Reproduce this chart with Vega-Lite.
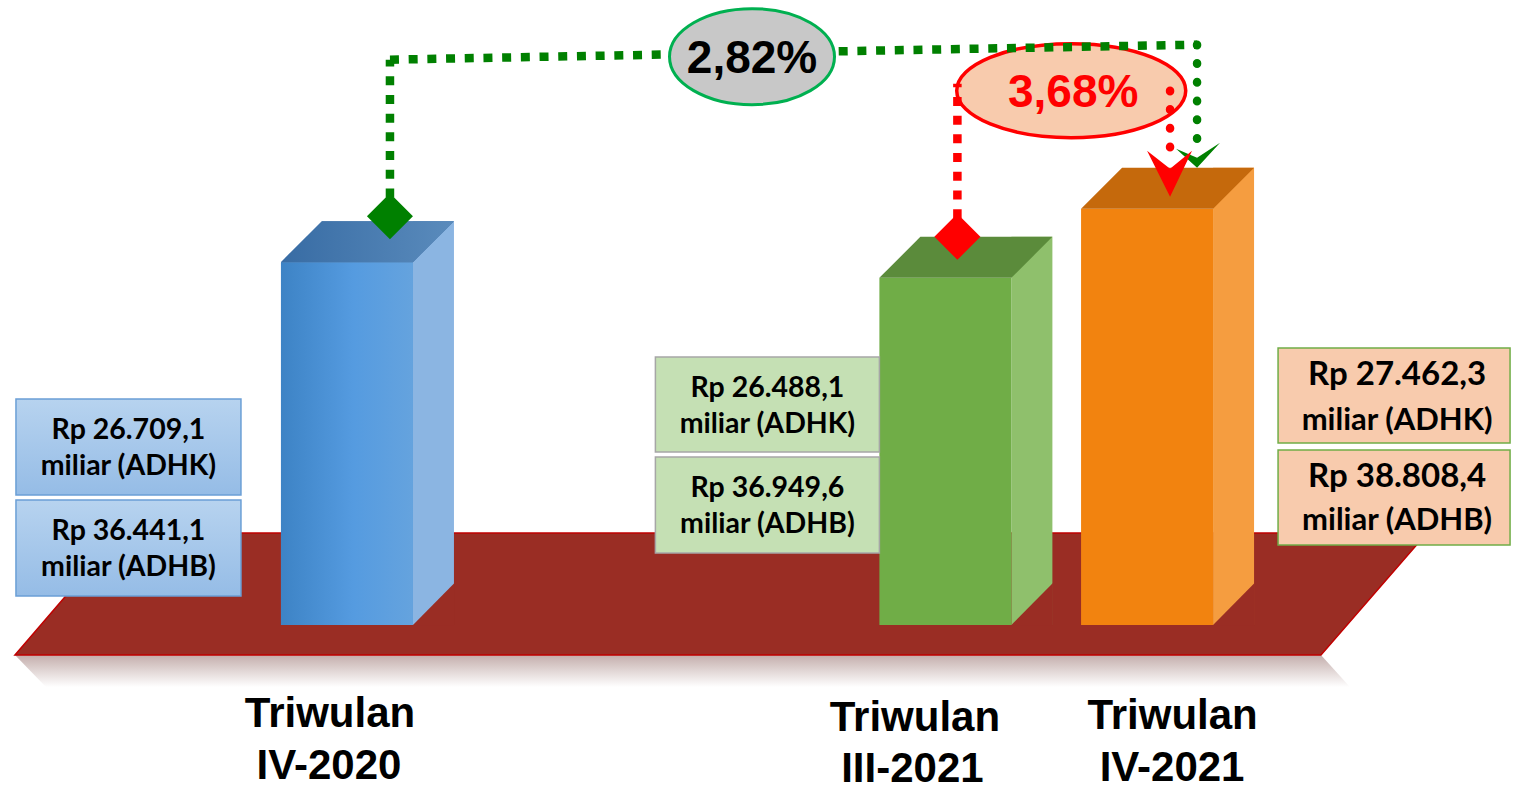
{
 "$schema": "https://vega.github.io/schema/vega-lite/v6.json",
 "width": 1528,
 "height": 625,
 "autosize": {"type": "none"},
 "padding": {"left": 0, "top": 0, "right": 0, "bottom": 166},
 "background": "#ffffff",
 "config": {
  "view": {"stroke": null},
  "locale": {"number": {"decimal": ",", "thousands": ".", "grouping": [3], "currency": ["Rp ", ""]}}
 },
 "datasets": {
  "quarters": [
   {"quarter": "2020-11-15", "period": "IV-2020", "adhk": 26709.1, "adhb": 36441.1},
   {"quarter": "2021-08-15", "period": "III-2021", "adhk": 26488.1, "adhb": 36949.6},
   {"quarter": "2021-11-15", "period": "IV-2021", "adhk": 27462.3, "adhb": 38808.4}
  ]
 },
 "data": {"name": "quarters"},
 "resolve": {"scale": {"color": "independent"}},
 "layer": [
  {
   "data": {"values": [{}]},
   "mark": {"type": "point", "shape": "M-332,30 L974,30 L1003,62 L-301,62 Z", "size": 4, "filled": true, "opacity": 1, "strokeWidth": 0,
    "fill": {"gradient": "linear", "x1": 0, "y1": 0, "x2": 0, "y2": 1, "stops": [{"offset": 0, "color": "#c4aeac"}, {"offset": 1, "color": "#ffffff"}]}},
   "encoding": {
    "x": {"datum": {"year": 2020, "month": 11, "date": 15}, "type": "temporal", "axis": null},
    "y": {"datum": 21600, "type": "quantitative", "axis": null}
   }
  },
  {
   "data": {"values": [{}]},
   "mark": {"type": "point", "shape": "M-227,-92 L1080,-92 L974,30 L-332,30 Z", "size": 4, "filled": true, "opacity": 1, "fill": "#9a2d24", "stroke": "#c00000", "strokeWidth": 1.5},
   "encoding": {
    "x": {"datum": {"year": 2020, "month": 11, "date": 15}, "type": "temporal", "axis": null},
    "y": {"datum": 21600, "type": "quantitative", "axis": null}
   }
  },
  {
   "mark": {"type": "bar", "width": 41, "xOffset": 86.5, "yOffset": -41, "opacity": 1},
   "encoding": {
    "x": {"field": "quarter", "type": "temporal", "axis": null},
    "y": {"field": "adhk", "type": "quantitative", "axis": null},
    "y2": {"datum": 21600},
    "color": {"field": "period", "type": "nominal", "scale": {"domain": ["IV-2020", "III-2021", "IV-2021"], "range": ["#8bb5e2", "#8fc06c", "#f59d40"]}, "legend": null}
   }
  },
  {
   "mark": {"type": "point", "shape": "M65.5,0.5 L107.5,-42 L107.5,0.5 Z", "size": 4, "filled": true, "opacity": 1, "fill": "#9a2d24", "strokeWidth": 0},
   "encoding": {
    "x": {"field": "quarter", "type": "temporal", "axis": null},
    "y": {"datum": 21600, "type": "quantitative", "axis": null}
   }
  },
  {
   "mark": {"type": "bar", "width": 132, "opacity": 1},
   "encoding": {
    "x": {"field": "quarter", "type": "temporal", "title": null,
     "scale": {"domain": [{"year": 2020, "month": 6, "date": 12}, {"year": 2022, "month": 5, "date": 5, "hours": 12}], "nice": false},
     "axis": null},
    "y": {"field": "adhk", "type": "quantitative", "scale": {"domain": [21600, 30400], "zero": false, "nice": false}, "axis": null},
    "y2": {"datum": 21600},
    "color": {"field": "period", "type": "nominal", "scale": {"domain": ["IV-2020", "III-2021", "IV-2021"], "range": ["#4b91d4", "#70ad47", "#f2830f"]}, "legend": null}
   }
  },
  {
   "transform": [{"filter": "datum.period === 'IV-2020'"}],
   "mark": {"type": "bar", "width": 132, "opacity": 1,
    "color": {"gradient": "linear", "x1": 0, "y1": 0, "x2": 1, "y2": 0, "stops": [{"offset": 0, "color": "#3d83c5"}, {"offset": 0.55, "color": "#559be0"}, {"offset": 1, "color": "#65a3de"}]}},
   "encoding": {
    "x": {"field": "quarter", "type": "temporal", "axis": null},
    "y": {"field": "adhk", "type": "quantitative", "axis": null},
    "y2": {"datum": 21600}
   }
  },
  {
   "mark": {"type": "point", "shape": "M-66,0 L66,0 L107,-41 L-25,-41 Z", "size": 4, "filled": true, "opacity": 1, "strokeWidth": 0},
   "encoding": {
    "x": {"field": "quarter", "type": "temporal", "axis": null},
    "y": {"field": "adhk", "type": "quantitative", "axis": null},
    "color": {"field": "period", "type": "nominal", "scale": {"domain": ["IV-2020", "III-2021", "IV-2021"], "range": ["#4677ad", "#5b8b3b", "#c5690c"]}, "legend": null}
   }
  },
  {
   "transform": [{"filter": "datum.period === 'IV-2020'"}],
   "mark": {"type": "point", "shape": "M-66,0 L66,0 L107,-41 L-25,-41 Z", "size": 4, "filled": true, "opacity": 1, "strokeWidth": 0,
    "fill": {"gradient": "linear", "x1": 0, "y1": 0, "x2": 1, "y2": 0, "stops": [{"offset": 0, "color": "#386ca4"}, {"offset": 1, "color": "#5a8bbc"}]}},
   "encoding": {
    "x": {"field": "quarter", "type": "temporal", "axis": null},
    "y": {"field": "adhk", "type": "quantitative", "axis": null}
   }
  },
  {
   "transform": [{"filter": "datum.period === 'IV-2020'"}],
   "encoding": {
    "x": {"field": "quarter", "type": "temporal", "axis": null},
    "y": {"datum": 21600, "type": "quantitative", "axis": null}
   },
   "layer": [
    {"mark": {"type": "point", "shape": "M-112.5,-48 L112.5,-48 L112.5,48 L-112.5,48 Z", "size": 4, "filled": true, "opacity": 1, "stroke": "#6b9fd6", "strokeWidth": 1.5, "xOffset": -218.5, "yOffset": -178,
     "fill": {"gradient": "linear", "x1": 0, "y1": 0, "x2": 0, "y2": 1, "stops": [{"offset": 0, "color": "#b7d3ef"}, {"offset": 1, "color": "#95bce6"}]}}},
    {"mark": {"type": "point", "shape": "M-112.5,-48 L112.5,-48 L112.5,48 L-112.5,48 Z", "size": 4, "filled": true, "opacity": 1, "stroke": "#6b9fd6", "strokeWidth": 1.5, "xOffset": -218.5, "yOffset": -77,
     "fill": {"gradient": "linear", "x1": 0, "y1": 0, "x2": 0, "y2": 1, "stops": [{"offset": 0, "color": "#b7d3ef"}, {"offset": 1, "color": "#95bce6"}]}}},
    {"mark": {"type": "text", "font": "Lato", "fontWeight": "bold", "fontSize": 28.5, "color": "#000000", "align": "center", "baseline": "alphabetic", "xOffset": -218.5, "yOffset": -186},
     "encoding": {"text": {"field": "adhk", "type": "quantitative", "format": "$,.1f"}}},
    {"mark": {"type": "text", "font": "Lato", "fontWeight": "bold", "fontSize": 28.5, "color": "#000000", "align": "center", "baseline": "alphabetic", "xOffset": -218.5, "yOffset": -150.5},
     "encoding": {"text": {"value": "miliar (ADHK)"}}},
    {"mark": {"type": "text", "font": "Lato", "fontWeight": "bold", "fontSize": 28.5, "color": "#000000", "align": "center", "baseline": "alphabetic", "xOffset": -218.5, "yOffset": -85},
     "encoding": {"text": {"field": "adhb", "type": "quantitative", "format": "$,.1f"}}},
    {"mark": {"type": "text", "font": "Lato", "fontWeight": "bold", "fontSize": 28.5, "color": "#000000", "align": "center", "baseline": "alphabetic", "xOffset": -218.5, "yOffset": -49.5},
     "encoding": {"text": {"value": "miliar (ADHB)"}}},
    {"mark": {"type": "text", "font": "Liberation Sans", "fontWeight": "bold", "fontSize": 42, "color": "#000000", "align": "center", "baseline": "alphabetic", "xOffset": -17, "yOffset": 102},
     "encoding": {"text": {"value": "Triwulan"}}},
    {"mark": {"type": "text", "font": "Liberation Sans", "fontWeight": "bold", "fontSize": 42, "color": "#000000", "align": "center", "baseline": "alphabetic", "xOffset": -18, "yOffset": 154},
     "encoding": {"text": {"field": "period", "type": "nominal"}}}
   ]
  },
  {
   "transform": [{"filter": "datum.period === 'III-2021'"}],
   "encoding": {
    "x": {"field": "quarter", "type": "temporal", "axis": null},
    "y": {"datum": 21600, "type": "quantitative", "axis": null}
   },
   "layer": [
    {"mark": {"type": "point", "shape": "M-112,-47.5 L112,-47.5 L112,47.5 L-112,47.5 Z", "size": 4, "filled": true, "opacity": 1, "fill": "#c5e0b4", "stroke": "#a6a6a6", "strokeWidth": 1.5, "xOffset": -178, "yOffset": -220.5}},
    {"mark": {"type": "point", "shape": "M-112,-48 L112,-48 L112,48 L-112,48 Z", "size": 4, "filled": true, "opacity": 1, "fill": "#c5e0b4", "stroke": "#a6a6a6", "strokeWidth": 1.5, "xOffset": -178, "yOffset": -120}},
    {"mark": {"type": "text", "font": "Lato", "fontWeight": "bold", "fontSize": 28.5, "color": "#000000", "align": "center", "baseline": "alphabetic", "xOffset": -178, "yOffset": -228.5},
     "encoding": {"text": {"field": "adhk", "type": "quantitative", "format": "$,.1f"}}},
    {"mark": {"type": "text", "font": "Lato", "fontWeight": "bold", "fontSize": 28.5, "color": "#000000", "align": "center", "baseline": "alphabetic", "xOffset": -178, "yOffset": -192.5},
     "encoding": {"text": {"value": "miliar (ADHK)"}}},
    {"mark": {"type": "text", "font": "Lato", "fontWeight": "bold", "fontSize": 28.5, "color": "#000000", "align": "center", "baseline": "alphabetic", "xOffset": -178, "yOffset": -128.3},
     "encoding": {"text": {"field": "adhb", "type": "quantitative", "format": "$,.1f"}}},
    {"mark": {"type": "text", "font": "Lato", "fontWeight": "bold", "fontSize": 28.5, "color": "#000000", "align": "center", "baseline": "alphabetic", "xOffset": -178, "yOffset": -92},
     "encoding": {"text": {"value": "miliar (ADHB)"}}},
    {"mark": {"type": "text", "font": "Liberation Sans", "fontWeight": "bold", "fontSize": 42, "color": "#000000", "align": "center", "baseline": "alphabetic", "xOffset": -30.5, "yOffset": 106},
     "encoding": {"text": {"value": "Triwulan"}}},
    {"mark": {"type": "text", "font": "Liberation Sans", "fontWeight": "bold", "fontSize": 42, "color": "#000000", "align": "center", "baseline": "alphabetic", "xOffset": -33, "yOffset": 157},
     "encoding": {"text": {"field": "period", "type": "nominal"}}}
   ]
  },
  {
   "transform": [{"filter": "datum.period === 'IV-2021'"}],
   "encoding": {
    "x": {"field": "quarter", "type": "temporal", "axis": null},
    "y": {"datum": 21600, "type": "quantitative", "axis": null}
   },
   "layer": [
    {"mark": {"type": "point", "shape": "M-116,-47.5 L116,-47.5 L116,47.5 L-116,47.5 Z", "size": 4, "filled": true, "opacity": 1, "fill": "#f8cbad", "stroke": "#70ad47", "strokeWidth": 1.5, "xOffset": 247, "yOffset": -229.5}},
    {"mark": {"type": "point", "shape": "M-116,-47.5 L116,-47.5 L116,47.5 L-116,47.5 Z", "size": 4, "filled": true, "opacity": 1, "fill": "#f8cbad", "stroke": "#70ad47", "strokeWidth": 1.5, "xOffset": 247, "yOffset": -127.5}},
    {"mark": {"type": "text", "font": "Lato", "fontWeight": "bold", "fontSize": 33, "color": "#000000", "align": "center", "baseline": "alphabetic", "xOffset": 250, "yOffset": -240},
     "encoding": {"text": {"field": "adhk", "type": "quantitative", "format": "$,.1f"}}},
    {"mark": {"type": "text", "font": "Lato", "fontWeight": "bold", "fontSize": 31, "color": "#000000", "align": "center", "baseline": "alphabetic", "xOffset": 250, "yOffset": -195},
     "encoding": {"text": {"value": "miliar (ADHK)"}}},
    {"mark": {"type": "text", "font": "Lato", "fontWeight": "bold", "fontSize": 33, "color": "#000000", "align": "center", "baseline": "alphabetic", "xOffset": 250, "yOffset": -138.3},
     "encoding": {"text": {"field": "adhb", "type": "quantitative", "format": "$,.1f"}}},
    {"mark": {"type": "text", "font": "Lato", "fontWeight": "bold", "fontSize": 31, "color": "#000000", "align": "center", "baseline": "alphabetic", "xOffset": 250, "yOffset": -95},
     "encoding": {"text": {"value": "miliar (ADHB)"}}},
    {"mark": {"type": "text", "font": "Liberation Sans", "fontWeight": "bold", "fontSize": 42, "color": "#000000", "align": "center", "baseline": "alphabetic", "xOffset": 25.5, "yOffset": 104},
     "encoding": {"text": {"value": "Triwulan"}}},
    {"mark": {"type": "text", "font": "Liberation Sans", "fontWeight": "bold", "fontSize": 42, "color": "#000000", "align": "center", "baseline": "alphabetic", "xOffset": 25, "yOffset": 156},
     "encoding": {"text": {"field": "period", "type": "nominal"}}}
   ]
  },
  {
   "data": {
    "values": [
     {"label": "2,82%", "comparison": "Triwulan IV-2021 terhadap Triwulan IV-2020", "from": "2020-11-15", "to": "2021-11-15", "fromValue": 26709.1, "toValue": 27462.3},
     {"label": "3,68%", "comparison": "Triwulan IV-2021 terhadap Triwulan III-2021", "from": "2021-08-15", "to": "2021-11-15", "fromValue": 26488.1, "toValue": 27462.3}
    ],
    "format": {"parse": {"from": "date", "to": "date"}}
   },
   "layer": [
    {
     "transform": [{"filter": "datum.label === '3,68%'"}, {"fold": ["from", "to"], "as": ["end", "date"]}],
     "mark": {"type": "point", "shape": "M-114.5,0 C-114.5,-26 -63.2,-47 0,-47 C63.2,-47 114.5,-26 114.5,0 C114.5,26 63.2,47 0,47 C-63.2,47 -114.5,26 -114.5,0 Z", "size": 4, "filled": true, "opacity": 1, "fill": "#f8cbad", "stroke": "#ff0000", "strokeWidth": 3.5, "xOffset": 25, "yOffset": -118},
     "encoding": {
      "x": {"aggregate": "mean", "field": "date", "type": "temporal", "axis": null},
      "y": {"field": "toValue", "type": "quantitative", "axis": null}
     }
    },
    {
     "transform": [{"filter": "datum.label === '3,68%'"}, {"fold": ["from", "to"], "as": ["end", "date"]}],
     "mark": {"type": "text", "font": "Liberation Sans", "fontWeight": "bold", "fontSize": 46, "color": "#ff0000", "align": "center", "baseline": "alphabetic", "xOffset": 27, "yOffset": -101.5},
     "encoding": {
      "x": {"aggregate": "mean", "field": "date", "type": "temporal", "axis": null},
      "y": {"field": "toValue", "type": "quantitative", "axis": null},
      "text": {"field": "label", "type": "nominal"}
     }
    },
    {
     "transform": [{"filter": "datum.label === '3,68%'"}],
     "mark": {"type": "rule", "color": "#ff0000", "strokeWidth": 8.5, "strokeDash": [9, 9.7], "opacity": 1, "xOffset": 12, "yOffset": -41, "y2Offset": -125},
     "encoding": {
      "x": {"field": "from", "type": "temporal", "axis": null},
      "y": {"field": "fromValue", "type": "quantitative", "axis": null},
      "y2": {"field": "toValue"}
     }
    },
    {
     "transform": [{"filter": "datum.label === '3,68%'"}],
     "mark": {"type": "rule", "color": "#ff0000", "strokeWidth": 8.5, "strokeDash": [0.5, 18.2], "strokeCap": "round", "opacity": 1, "xOffset": 23, "yOffset": -118, "y2Offset": -50},
     "encoding": {
      "x": {"field": "to", "type": "temporal", "axis": null},
      "y": {"field": "toValue", "type": "quantitative", "axis": null},
      "y2": {"field": "toValue"}
     }
    },
    {
     "transform": [{"filter": "datum.label === '3,68%'"}],
     "mark": {"type": "point", "shape": "diamond", "size": 2116, "filled": true, "opacity": 1, "fill": "#ff0000", "strokeWidth": 0, "xOffset": 12, "yOffset": -41},
     "encoding": {
      "x": {"field": "from", "type": "temporal", "axis": null},
      "y": {"field": "fromValue", "type": "quantitative", "axis": null}
     }
    },
    {
     "transform": [{"filter": "datum.label === '2,82%'"}],
     "mark": {"type": "rule", "color": "#008000", "strokeWidth": 8.5, "strokeDash": [9, 9.7], "opacity": 1, "xOffset": 43, "yOffset": -46, "y2Offset": -149},
     "encoding": {
      "x": {"field": "from", "type": "temporal", "axis": null},
      "y": {"field": "fromValue", "type": "quantitative", "axis": null},
      "y2": {"field": "toValue"}
     }
    },
    {
     "transform": [{"filter": "datum.label === '2,82%'"}],
     "mark": {"type": "rule", "color": "#008000", "strokeWidth": 8.5, "strokeDash": [9, 9.7], "opacity": 1, "xOffset": 43, "x2Offset": 50, "yOffset": -149, "y2Offset": -164},
     "encoding": {
      "x": {"field": "from", "type": "temporal", "axis": null},
      "x2": {"field": "to"},
      "y": {"field": "toValue", "type": "quantitative", "axis": null},
      "y2": {"field": "toValue"}
     }
    },
    {
     "transform": [{"filter": "datum.label === '2,82%'"}],
     "mark": {"type": "rule", "color": "#008000", "strokeWidth": 8.5, "strokeDash": [0.5, 18.2], "strokeCap": "round", "opacity": 1, "xOffset": 50, "yOffset": -164, "y2Offset": -52},
     "encoding": {
      "x": {"field": "to", "type": "temporal", "axis": null},
      "y": {"field": "toValue", "type": "quantitative", "axis": null},
      "y2": {"field": "toValue"}
     }
    },
    {
     "transform": [{"filter": "datum.label === '2,82%'"}],
     "mark": {"type": "point", "shape": "diamond", "size": 2116, "filled": true, "opacity": 1, "fill": "#008000", "strokeWidth": 0, "xOffset": 43, "yOffset": -46},
     "encoding": {
      "x": {"field": "from", "type": "temporal", "axis": null},
      "y": {"field": "fromValue", "type": "quantitative", "axis": null}
     }
    },
    {
     "transform": [{"filter": "datum.label === '2,82%'"}],
     "mark": {"type": "point", "shape": "M0,0 L-21,-19 L0,-10 L23,-25 Z", "size": 4, "filled": true, "opacity": 1, "fill": "#008000", "strokeWidth": 0, "xOffset": 50, "yOffset": -41},
     "encoding": {
      "x": {"field": "to", "type": "temporal", "axis": null},
      "y": {"field": "toValue", "type": "quantitative", "axis": null}
     }
    },
    {
     "transform": [{"filter": "datum.label === '3,68%'"}],
     "mark": {"type": "point", "shape": "M0,0 L-23,-46 L0,-28 L22,-46 Z", "size": 4, "filled": true, "opacity": 1, "fill": "#ff0000", "strokeWidth": 0, "xOffset": 23, "yOffset": -12},
     "encoding": {
      "x": {"field": "to", "type": "temporal", "axis": null},
      "y": {"field": "toValue", "type": "quantitative", "axis": null}
     }
    },
    {
     "transform": [{"filter": "datum.label === '2,82%'"}, {"fold": ["from", "to"], "as": ["end", "date"]}],
     "mark": {"type": "point", "shape": "M-82.5,0 C-82.5,-26.5 -45.6,-48 0,-48 C45.6,-48 82.5,-26.5 82.5,0 C82.5,26.5 45.6,48 0,48 C-45.6,48 -82.5,26.5 -82.5,0 Z", "size": 4, "filled": true, "opacity": 1, "fill": "#c8c8c8", "stroke": "#00b050", "strokeWidth": 3, "xOffset": 5, "yOffset": -152},
     "encoding": {
      "x": {"aggregate": "mean", "field": "date", "type": "temporal", "axis": null},
      "y": {"field": "toValue", "type": "quantitative", "axis": null}
     }
    },
    {
     "transform": [{"filter": "datum.label === '2,82%'"}, {"fold": ["from", "to"], "as": ["end", "date"]}],
     "mark": {"type": "text", "font": "Liberation Sans", "fontWeight": "bold", "fontSize": 46, "color": "#000000", "align": "center", "baseline": "alphabetic", "xOffset": 5, "yOffset": -135.5},
     "encoding": {
      "x": {"aggregate": "mean", "field": "date", "type": "temporal", "axis": null},
      "y": {"field": "toValue", "type": "quantitative", "axis": null},
      "text": {"field": "label", "type": "nominal"}
     }
    }
   ]
  }
 ]
}
